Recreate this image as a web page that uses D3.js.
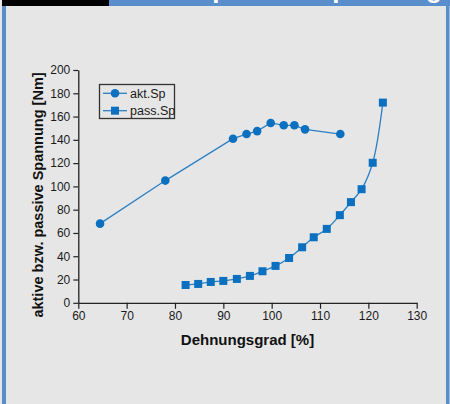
<!DOCTYPE html>
<html>
<head>
<meta charset="utf-8">
<script src="https://cdn.jsdelivr.net/npm/d3@7"></script>
<style>
  html, body { margin: 0; padding: 0; background: #e6e6e6; }
  #chart-container { width: 450px; height: 404px; overflow: hidden; }
</style>
</head>
<body>
<div id="chart-container"></div>
<script>
// Werte
const aktX = [64.5, 78, 92, 94.8, 97, 99.8, 102.5, 104.7, 106.9, 114.2];
const aktY = [68, 105, 141, 145, 147.5, 154.5, 152.5, 152.5, 149, 145];
const passX = [82.2, 84.8, 87.4, 90, 92.8, 95.5, 98.1, 100.8, 103.6, 106.3, 108.7, 111.4, 114.1, 116.4, 118.6, 120.9, 123];
const passY = [15.3, 16.2, 17.9, 18.8, 20.5, 23.1, 27.1, 31.7, 38.5, 47.7, 56.3, 63.5, 75.3, 86.5, 97.6, 120.3, 172];
const xTicks = [60, 70, 80, 90, 100, 110, 120, 130];
const yTicks = [0, 20, 40, 60, 80, 100, 120, 140, 160, 180, 200];
const seriesNames = ["akt.Sp", "pass.Sp"];

const W = 450, H = 404;
const blue = "#5a8dcb";
const markColor = "#0a70bf";
const lineColor = "#2a80c6";
const font = "'Liberation Sans', Arial, sans-serif";

const svg = d3.select("#chart-container")
    .append("svg")
    .attr("width", W)
    .attr("height", H)
    .style("font-family", font);

// Rahmen
svg.append("rect").attr("width", W).attr("height", H).attr("fill", "#e6e6e6");
svg.append("rect").attr("x", 2).attr("y", 0).attr("width", 4).attr("height", H).attr("fill", blue);
svg.append("rect").attr("x", 446).attr("y", 0).attr("width", 3.5).attr("height", H).attr("fill", blue);
svg.append("rect").attr("x", 109).attr("y", 0).attr("width", W - 109).attr("height", 6).attr("fill", blue);
svg.append("rect").attr("x", 2).attr("y", 0).attr("width", 107).attr("height", 6).attr("fill", "#000");
// abgeschnittener Titel oben (wie im Original nur Unterlängen sichtbar)
svg.append("text")
    .attr("x", 442)
    .attr("y", -2)
    .attr("text-anchor", "end")
    .attr("fill", "#fff")
    .style("font-size", "26px")
    .style("font-weight", "bold")
    .text("aktive und passive Spannung");

const x = d3.scaleLinear().domain([60, 130]).range([78.3, 416.7]);
const y = d3.scaleLinear().domain([0, 200]).range([302.8, 70]);

// Achsen
const xAxis = svg.append("g")
    .attr("transform", `translate(0,${y(0)})`)
    .call(d3.axisBottom(x).tickValues(xTicks).tickSize(6).tickSizeOuter(0).tickPadding(3));
const yAxis = svg.append("g")
    .attr("transform", `translate(${x(60)},0)`)
    .call(d3.axisLeft(y).tickValues(yTicks).tickSize(5).tickSizeOuter(0).tickPadding(3));

[xAxis, yAxis].forEach(a => {
    a.select(".domain").attr("stroke", "#222").attr("stroke-width", 1.3);
    a.selectAll(".tick line").attr("stroke", "#222").attr("stroke-width", 1.2);
    a.selectAll(".tick text")
        .attr("fill", "#1a1a1a")
        .style("font-family", font)
        .style("font-size", "12px");
});

svg.append("text")
    .attr("x", (x(60) + x(130)) / 2)
    .attr("y", 345)
    .attr("text-anchor", "middle")
    .attr("fill", "#111")
    .style("font-size", "15px")
    .style("font-weight", "bold")
    .text("Dehnungsgrad [%]");

svg.append("text")
    .attr("transform", `translate(43,195) rotate(-90)`)
    .attr("text-anchor", "middle")
    .attr("fill", "#111")
    .style("font-size", "14.5px")
    .style("font-weight", "bold")
    .text("aktive bzw. passive Spannung [Nm]");

// Daten
const akt = aktX.map((v, i) => ({ x: v, y: aktY[i] }));
const pass = passX.map((v, i) => ({ x: v, y: passY[i] }));

svg.append("path")
    .datum(akt)
    .attr("fill", "none")
    .attr("stroke", lineColor)
    .attr("stroke-width", 1.3)
    .attr("d", d3.line().x(d => x(d.x)).y(d => y(d.y)));

svg.append("path")
    .datum(pass)
    .attr("fill", "none")
    .attr("stroke", lineColor)
    .attr("stroke-width", 1.3)
    .attr("d", d3.line().curve(d3.curveCatmullRom.alpha(0.5)).x(d => x(d.x)).y(d => y(d.y)));

svg.selectAll(".akt")
    .data(akt)
    .enter()
    .append("circle")
    .attr("class", "akt")
    .attr("cx", d => x(d.x))
    .attr("cy", d => y(d.y))
    .attr("r", 4.3)
    .attr("fill", markColor);

const s = 8;
svg.selectAll(".pass")
    .data(pass)
    .enter()
    .append("rect")
    .attr("class", "pass")
    .attr("x", d => x(d.x) - s / 2)
    .attr("y", d => y(d.y) - s / 2)
    .attr("width", s)
    .attr("height", s)
    .attr("fill", markColor);

// Legende
const legend = svg.append("g");
legend.append("rect")
    .attr("x", 99.5).attr("y", 84.5)
    .attr("width", 75).attr("height", 34)
    .attr("fill", "none")
    .attr("stroke", "#333")
    .attr("stroke-width", 1.3);

seriesNames.forEach((name, i) => {
    const ly = 93.3 + i * 17.4;
    legend.append("line")
        .attr("x1", 103).attr("x2", 127)
        .attr("y1", ly).attr("y2", ly)
        .attr("stroke", lineColor)
        .attr("stroke-width", 1.3);
    if (i === 0) {
        legend.append("circle").attr("cx", 115).attr("cy", ly).attr("r", 4.3).attr("fill", markColor);
    } else {
        legend.append("rect").attr("x", 115 - s / 2).attr("y", ly - s / 2)
            .attr("width", s).attr("height", s).attr("fill", markColor);
    }
    legend.append("text")
        .attr("x", 130)
        .attr("y", ly + 4.5)
        .attr("fill", "#1a1a1a")
        .style("font-size", "12.5px")
        .text(name);
});
</script>
</body>
</html>
